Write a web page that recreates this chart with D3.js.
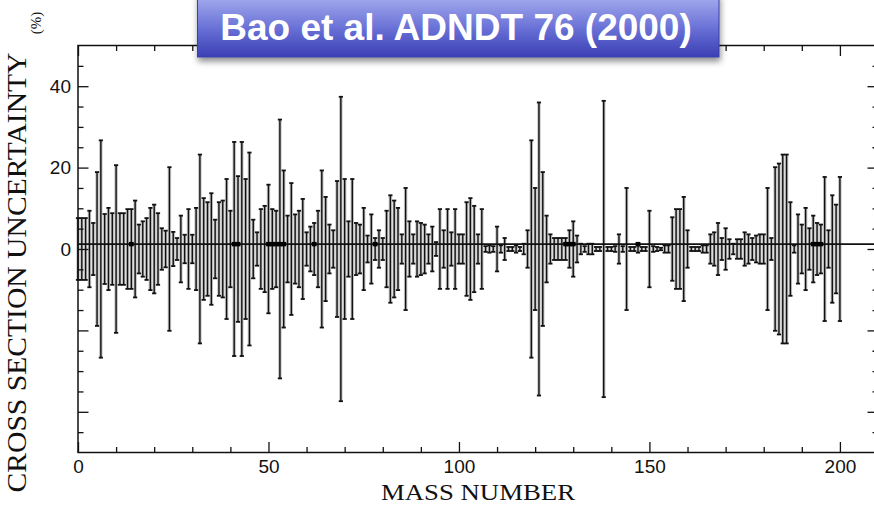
<!DOCTYPE html>
<html>
<head>
<meta charset="utf-8">
<script src="https://cdn.jsdelivr.net/npm/d3@7"></script>
<style>
  body { margin: 0; background: #fff; }
</style>
</head>
<body>
<div id="chart"></div>
<script>
// relative cross section uncertainty (%) per mass number
var uncertainty = [
    7.6, 7.6, 7.6, 9.4, 6.4, 18.9, 26.7, 8.6, 10.1, 8.8,
    20.6, 8.8, 8.8, 9.8, 9.8, 11.9, 6.0, 6.8, 7.6, 10.1,
    10.9, 8.8, 5.1, 4.5, 20.1, 4.2, 2.7, 8.2, 3.5, 9.8,
    3.5, 10.1, 23.2, 12.5, 11.5, 13.7, 7.2, 11.5, 11.9, 17.2,
    9.4, 26.3, 17.9, 26.3, 17.2, 23.7, 7.2, 4.1, 9.8, 10.6,
    15.8, 9.8, 9.4, 31.8, 19.3, 8.2, 16.2, 8.5, 9.4, 12.3,
    4.1, 5.5, 6.4, 9.4, 19.3, 12.8, 6.0, 4.6, 16.7, 37.4,
    17.2, 6.8, 17.2, 6.4, 6.0, 10.1, 3.3, 8.5, 2.7, 4.6,
    2.7, 9.4, 13.2, 11.9, 10.1, 3.6, 15.0, 6.8, 3.6, 6.8,
    6.4, 6.0, 3.6, 5.5, 1.7, 9.8, 4.6, 9.8, 4.1, 9.8,
    3.6, 3.6, 11.5, 12.5, 10.6, 3.6, 9.8, 0.7, 0.9, 0.7,
    5.5, 0.9, 2.7, 0.5, 0.5, 0.9, 0.5, 1.3, 4.6, 26.7,
    15.0, 36.0, 18.9, 8.2, 3.6, 2.7, 2.7, 2.7, 2.7, 4.6,
    6.8, 3.3, 1.3, 0.7, 1.3, 1.3, 0.5, 0.5, 36.4, 0.5,
    0.5, 0.7, 3.6, 0.7, 15.0, 0.5, 0.5, 0.9, 0.5, 0.5,
    9.4, 0.7, 0.5, 0.3, 0.9, 0.9, 7.8, 9.8, 9.8, 12.8,
    4.6, 0.5, 0.5, 0.5, 0.9, 0.9, 3.6, 4.1, 6.4, 2.7,
    5.1, 2.4, 1.3, 2.4, 2.4, 4.1, 3.6, 2.7, 3.3, 3.6,
    3.6, 15.0, 2.7, 20.1, 21.0, 23.2, 23.2, 11.5, 0.9, 8.5,
    6.0, 10.1, 5.1, 8.2, 6.4, 6.0, 17.7, 4.6, 13.2, 10.9,
    17.7
];
var massNumbers = d3.range(0, uncertainty.length);

// masses that show a filled marker on the reference line
var markedMasses = [14, 41, 42, 50, 51, 52, 53, 54, 62, 78, 128, 129, 130, 147, 193, 194, 195];
var refLevel = 1.2;   // the horizontal line sits a bit above the bar centres

var xMajorTicks = [0, 50, 100, 150, 200];
var xMinorTicks = [10, 20, 30, 40, 60, 70, 80, 90, 110, 120, 130, 140, 160, 170, 180, 190, 210];
var yMajorTicks = [-40, -20, 0, 20, 40];
var yMinorTicks = [-45, -35, -30, -25, -15, -10, -5, 5, 10, 15, 25, 30, 35, 45];

var titleText = "Bao et al. ADNDT 76 (2000)";
var yTitle = "CROSS SECTION UNCERTAINTY";
var yUnit = "(%)";
var xTitle = "MASS NUMBER";

var W = 874, H = 505;
var plotLeft = 78, plotRight = 878, plotTop = 45.5, plotBottom = 452.5;

var svg = d3.select("#chart").append("svg")
    .attr("width", W)
    .attr("height", H)
    .style("display", "block");

svg.append("rect").attr("width", W).attr("height", H).attr("fill", "#fff");

var x = d3.scaleLinear().domain([0, 210]).range([plotLeft, plotRight]);
var y = d3.scaleLinear().domain([-50, 50]).range([plotBottom, plotTop]);

var barData = massNumbers.map(function (m, i) {
    return {mass: m, u: uncertainty[i]};
});

// error bars: soft grey halo under each stem (the scanned look), then stem and caps
var capHalf = 2.1;
var bars = svg.append("g").attr("fill", "none");

bars.selectAll("line.halo")
    .data(barData)
    .enter()
    .append("line")
    .attr("class", "halo")
    .attr("x1", function (d) { return x(d.mass); })
    .attr("x2", function (d) { return x(d.mass); })
    .attr("y1", function (d) { return y(d.u); })
    .attr("y2", function (d) { return y(-d.u); })
    .attr("stroke", "#c2c2c2")
    .attr("stroke-width", 3.4);

bars.selectAll("line.stem")
    .data(barData)
    .enter()
    .append("line")
    .attr("class", "stem")
    .attr("x1", function (d) { return x(d.mass); })
    .attr("x2", function (d) { return x(d.mass); })
    .attr("y1", function (d) { return y(d.u); })
    .attr("y2", function (d) { return y(-d.u); })
    .attr("stroke", "#111")
    .attr("stroke-width", 1.4);

["up", "down"].forEach(function (side) {
    bars.selectAll("line.cap-" + side)
        .data(barData)
        .enter()
        .append("line")
        .attr("class", "cap-" + side)
        .attr("x1", function (d) { return x(d.mass) - capHalf; })
        .attr("x2", function (d) { return x(d.mass) + capHalf; })
        .attr("y1", function (d) { return y(side === "up" ? d.u : -d.u); })
        .attr("y2", function (d) { return y(side === "up" ? d.u : -d.u); })
        .attr("stroke", "#111")
        .attr("stroke-width", 1.8);
});

// reference line + markers
svg.append("line")
    .attr("x1", plotLeft).attr("x2", plotRight)
    .attr("y1", y(refLevel)).attr("y2", y(refLevel))
    .attr("stroke", "#111")
    .attr("stroke-width", 1.6);

svg.append("g").selectAll("rect")
    .data(markedMasses)
    .enter()
    .append("rect")
    .attr("x", function (d) { return x(d) - 2.4; })
    .attr("y", y(refLevel) - 2.2)
    .attr("width", 4.8)
    .attr("height", 4.4)
    .attr("fill", "#000");

// axes, ticks pointing inward
function styleAxis(g) {
    g.select(".domain").remove();
    g.selectAll(".tick line").attr("stroke", "#111").attr("stroke-width", 1.3);
    g.selectAll("text")
        .attr("fill", "#111")
        .attr("font-family", "'Liberation Sans', Arial, sans-serif")
        .attr("font-size", "19px");
}

function addAxis(axisFn, scale, transform, majors, minors, labelled) {
    svg.append("g")
        .attr("transform", transform)
        .call(axisFn(scale).tickValues(minors).tickSizeInner(-5.5).tickSizeOuter(0).tickFormat(""))
        .call(styleAxis);
    svg.append("g")
        .attr("transform", transform)
        .call(axisFn(scale).tickValues(majors).tickSizeInner(-10.5).tickSizeOuter(0).tickPadding(7)
            .tickFormat(labelled ? function (d) { return d >= 0 ? d : ""; } : ""))
        .call(styleAxis);
}

addAxis(d3.axisLeft, y, "translate(" + plotLeft + ",0)", yMajorTicks, yMinorTicks, true);
addAxis(d3.axisRight, y, "translate(" + plotRight + ",0)", yMajorTicks, yMinorTicks, false);
addAxis(d3.axisBottom, x, "translate(0," + plotBottom + ")", xMajorTicks, xMinorTicks, true);
addAxis(d3.axisTop, x, "translate(0," + plotTop + ")", xMajorTicks, xMinorTicks, false);

// frame
svg.append("rect")
    .attr("x", plotLeft).attr("y", plotTop)
    .attr("width", plotRight - plotLeft).attr("height", plotBottom - plotTop)
    .attr("fill", "none")
    .attr("stroke", "#111")
    .attr("stroke-width", 1.5);

// axis titles
svg.append("text")
    .attr("transform", "translate(26," + ((52 + 493) / 2) + ") rotate(-90)")
    .attr("text-anchor", "middle")
    .attr("font-family", "'Liberation Serif', 'Times New Roman', serif")
    .attr("font-size", "28px")
    .attr("textLength", 440)
    .attr("lengthAdjust", "spacingAndGlyphs")
    .attr("fill", "#111")
    .text(yTitle);

svg.append("text")
    .attr("transform", "translate(41,23) rotate(-90)")
    .attr("text-anchor", "middle")
    .attr("font-family", "'Liberation Serif', 'Times New Roman', serif")
    .attr("font-size", "15px")
    .attr("fill", "#111")
    .text(yUnit);

svg.append("text")
    .attr("x", 478)
    .attr("y", 500)
    .attr("text-anchor", "middle")
    .attr("font-family", "'Liberation Serif', 'Times New Roman', serif")
    .attr("font-size", "24px")
    .attr("textLength", 194)
    .attr("lengthAdjust", "spacingAndGlyphs")
    .attr("fill", "#111")
    .text(xTitle);

// title box
var defs = svg.append("defs");
var grad = defs.append("linearGradient")
    .attr("id", "boxGrad")
    .attr("x1", 0).attr("y1", 0).attr("x2", 0).attr("y2", 1);
grad.append("stop").attr("offset", "0%").attr("stop-color", "#a9b0f0");
grad.append("stop").attr("offset", "55%").attr("stop-color", "#6870d6");
grad.append("stop").attr("offset", "100%").attr("stop-color", "#3a3fb4");

var shadow = defs.append("filter")
    .attr("id", "boxShadow")
    .attr("x", "-10%").attr("y", "-30%")
    .attr("width", "120%").attr("height", "160%");
shadow.append("feDropShadow")
    .attr("dx", 1).attr("dy", 4)
    .attr("stdDeviation", 3)
    .attr("flood-color", "#000")
    .attr("flood-opacity", 0.45);

svg.append("rect")
    .attr("x", 197.5).attr("y", -6)
    .attr("width", 521.5).attr("height", 63)
    .attr("fill", "url(#boxGrad)")
    .attr("stroke", "#3b40a8")
    .attr("stroke-width", 1)
    .attr("filter", "url(#boxShadow)");

svg.append("text")
    .attr("x", 456)
    .attr("y", 40)
    .attr("text-anchor", "middle")
    .attr("font-family", "'Liberation Sans', Arial, sans-serif")
    .attr("font-weight", "bold")
    .attr("font-size", "37px")
    .attr("fill", "#fff")
    .text(titleText);
</script>
</body>
</html>
